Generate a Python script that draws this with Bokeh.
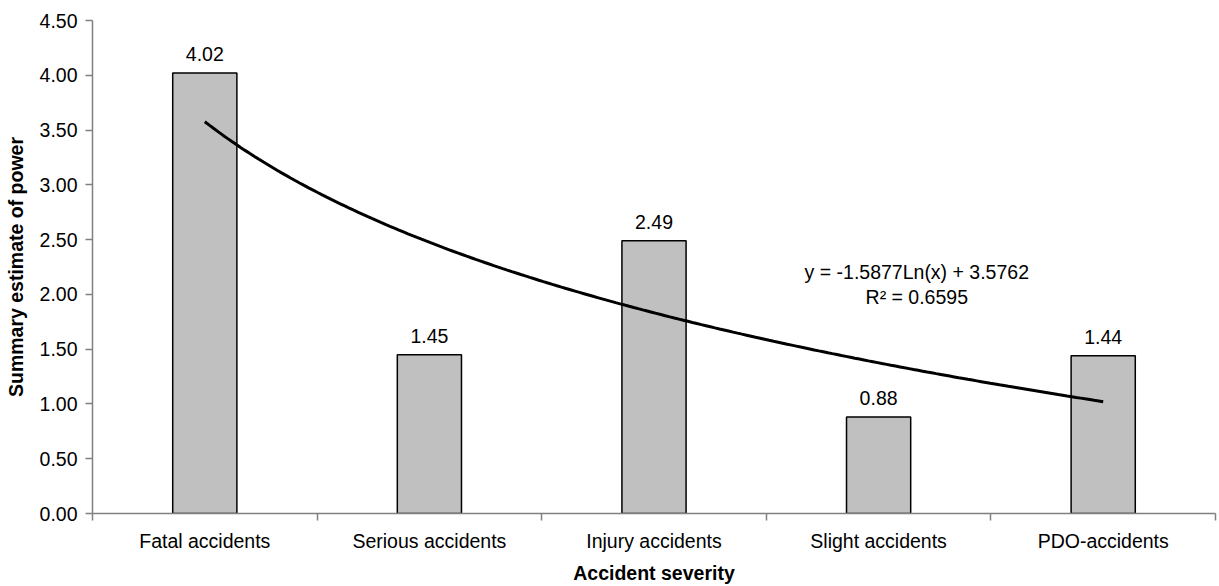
import numpy as np
from bokeh.plotting import figure
from bokeh.models import Range1d, FixedTicker, NumeralTickFormatter, ColumnDataSource, Label
from bokeh.core.properties import value
from bokeh.embed import file_html
from bokeh.resources import INLINE

categories = ["Fatal accidents", "Serious accidents", "Injury accidents", "Slight accidents", "PDO-accidents"]
values = [4.02, 1.45, 2.49, 0.88, 1.44]
value_labels = ["4.02", "1.45", "2.49", "0.88", "1.44"]
y_ticks = [0.0, 0.5, 1.0, 1.5, 2.0, 2.5, 3.0, 3.5, 4.0, 4.5]
trend_slope = -1.5877
trend_intercept = 3.5762
trend_r2 = 0.6595

FONT = "Liberation Sans"
FS = "19.5px"
AXIS_GRAY = "#808080"

positions = list(range(1, len(categories) + 1))
src = ColumnDataSource(dict(x=positions, top=values, lab=value_labels))

p = figure(width=1219, height=586, output_backend="svg", toolbar_location=None,
           x_range=Range1d(0.5, len(categories) + 0.5), y_range=Range1d(0, 4.5),
           min_border_left=92, min_border_right=4, min_border_top=20, min_border_bottom=70)
p.outline_line_color = None
p.xgrid.visible = False
p.ygrid.visible = False
p.background_fill_color = "white"
p.border_fill_color = "white"

p.vbar(x="x", top="top", width=1 / 3.5, bottom=0, source=src,
       fill_color="#C0C0C0", line_color="#000000", line_width=1.5)

xs = np.linspace(1, len(categories), 200)
ys = trend_slope * np.log(xs) + trend_intercept
p.line(xs, ys, line_color="black", line_width=3)

p.text(x="x", y="top", text="lab", source=src, text_align="center", text_baseline="alphabetic",
       y_offset=-19, text_font=value(FONT), text_font_size=FS, text_color="black")

eq = "y = %.4fLn(x) + %.4f" % (trend_slope, trend_intercept)
p.add_layout(Label(x=4.17, y=2.205, text=eq, text_align="center", text_baseline="alphabetic",
                   text_font=FONT, text_font_size=FS, text_color="black"))
p.add_layout(Label(x=4.17, y=1.98, text="R² = %.4f" % trend_r2, text_align="center",
                   text_baseline="alphabetic", text_font=FONT, text_font_size=FS, text_color="black"))

# x axis: labels at centers, tick marks at category boundaries
xa = p.xaxis[0]
xa.ticker = FixedTicker(ticks=positions, minor_ticks=[i + 0.5 for i in range(0, len(categories) + 1)])
xa.major_label_overrides = {i: c for i, c in zip(positions, categories)}
xa.major_tick_out = 0
xa.major_tick_in = 0
xa.minor_tick_out = 7
xa.minor_tick_in = 0
xa.minor_tick_line_color = AXIS_GRAY
xa.minor_tick_line_width = 1.5
xa.axis_line_color = AXIS_GRAY
xa.axis_line_width = 1.5
xa.major_label_standoff = 9
xa.major_label_text_font = FONT
xa.major_label_text_font_size = FS
xa.major_label_text_color = "black"
xa.axis_label = "Accident severity"
xa.axis_label_text_font = FONT
xa.axis_label_text_font_style = "bold"
xa.axis_label_text_font_size = FS
xa.axis_label_text_color = "black"
xa.axis_label_standoff = 7

ya = p.yaxis[0]
ya.ticker = FixedTicker(ticks=y_ticks, minor_ticks=[])
ya.formatter = NumeralTickFormatter(format="0.00")
ya.major_tick_out = 7
ya.major_tick_in = 0
ya.major_tick_line_color = AXIS_GRAY
ya.major_tick_line_width = 1.5
ya.axis_line_color = AXIS_GRAY
ya.axis_line_width = 1.5
ya.major_label_standoff = 8
ya.major_label_text_font = FONT
ya.major_label_text_font_size = FS
ya.major_label_text_color = "black"
ya.axis_label = "Summary estimate of power"
ya.axis_label_text_font = FONT
ya.axis_label_text_font_style = "bold"
ya.axis_label_text_font_size = FS
ya.axis_label_text_color = "black"
ya.axis_label_standoff = 10

open("out.html", "w").write(file_html(p, INLINE))
